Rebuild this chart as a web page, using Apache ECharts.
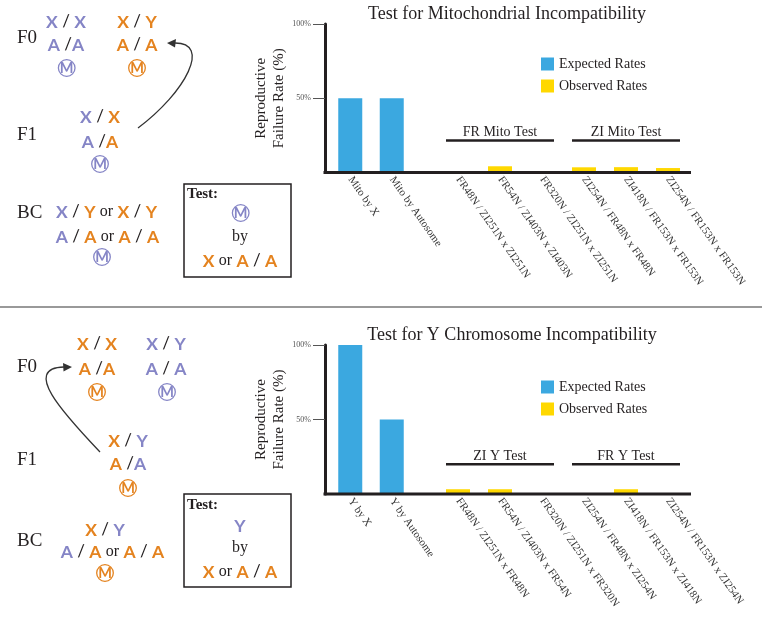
<!DOCTYPE html>
<html><head><meta charset="utf-8">
<script src="https://cdn.jsdelivr.net/npm/echarts@6/dist/echarts.min.js"></script>
<style>html,body{margin:0;padding:0;background:#fff}#c{width:762px;height:617px}</style>
</head><body><div id="c"></div>
<script>
// ---------- data ----------
const titleTop = 'Test for Mitochondrial Incompatibility';
const titleBottom = 'Test for Y Chromosome Incompatibility';
const yAxisName = 'Reproductive\nFailure Rate (%)';
const yTickValues = [50, 100];
const legendNames = ['Expected Rates', 'Observed Rates'];

const expectedCatsTop = ['Mito by X', 'Mito by Autosome'];
const expectedTop = [50, 50];
const observedCatsTop = ['FR48N / ZI251N x ZI251N', 'FR54N / ZI403N x ZI403N', 'FR320N / ZI251N x ZI251N',
  'ZI254N / FR48N x FR48N', 'ZI418N / FR153N x FR153N', 'ZI254N / FR153N x FR153N'];
const observedTop = [0, 4.2, 0, 3.5, 3.6, 3.0];
const bracketLabelsTop = ['FR Mito Test', 'ZI Mito Test'];

const expectedCatsBottom = ['Y by X', 'Y by Autosome'];
const expectedBottom = [100, 50];
const observedCatsBottom = ['FR48N / ZI251N x FR48N', 'FR54N / ZI403N x FR54N', 'FR320N / ZI251N x FR320N',
  'ZI254N / FR48N x ZI254N', 'ZI418N / FR153N x ZI418N', 'ZI254N / FR153N x ZI254N'];
const observedBottom = [3.2, 3.2, 0, 0, 3.2, 0];
const bracketLabelsBottom = ['ZI Y Test', 'FR Y Test'];
const bracketLevel = [21.5, 20];

// ---------- style ----------
const BLUE = '#3ba8e0', YELLOW = '#ffd800', K = '#231f20';
const PUR = '#8585c6', ORA = '#e4831f';
const SERIF = '"Liberation Serif", "DejaVu Serif", serif';
const SANS = 'Lato, "Open Sans", sans-serif';
const BAR_W = 24;

const chart = echarts.init(document.getElementById('c'), null, {renderer: 'canvas'});

const gridsPx = [
  {left: 329.5, top: 24, width: 83, height: 148.5},
  {left: 437, top: 24, width: 252, height: 148.5},
  {left: 329.5, top: 345, width: 83, height: 149},
  {left: 437, top: 345, width: 252, height: 149}
];

function xAx(i, data) {
  return {type: 'category', gridIndex: i, data: data,
    axisLine: {show: false}, axisTick: {show: false},
    axisLabel: {interval: 0, rotate: -55, margin: 5, fontSize: 11, fontFamily: SERIF, color: '#333'}};
}
function yAxVisible(i) {
  return {type: 'value', gridIndex: i, min: 0, max: 100, interval: 50, offset: 4.5,
    axisLine: {show: true, lineStyle: {color: K, width: 3}},
    axisTick: {show: true, length: 12, customValues: yTickValues, lineStyle: {color: '#555', width: 1}},
    axisLabel: {customValues: yTickValues, formatter: '{value}%', fontSize: 8, color: '#555', margin: 14, fontFamily: SERIF},
    splitLine: {show: false},
    name: yAxisName, nameLocation: 'middle', nameRotate: 90, nameGap: 35,
    nameTextStyle: {fontSize: 15, lineHeight: 18, fontFamily: SERIF, color: K}};
}
function yAxHidden(i) {
  return {type: 'value', gridIndex: i, min: 0, max: 100, interval: 50, show: false, splitLine: {show: false}};
}
function legend(top) {
  return {data: legendNames, orient: 'vertical', left: 536, top: top, itemWidth: 13, itemHeight: 13, itemGap: 8,
    icon: 'rect', selectedMode: false, textStyle: {fontSize: 14, fontFamily: SERIF, color: K}};
}
function bar(name, xi, data, color) {
  return {name: name, type: 'bar', xAxisIndex: xi, yAxisIndex: xi, data: data, barWidth: BAR_W,
    itemStyle: {color: color}, silent: true};
}

chart.setOption({
  animation: false,
  title: [
    {text: titleTop, left: 502, top: 0, textAlign: 'center', textStyle: {fontSize: 18, fontWeight: 'normal', fontFamily: SERIF, color: K}},
    {text: titleBottom, left: 507, top: 321, textAlign: 'center', textStyle: {fontSize: 18, fontWeight: 'normal', fontFamily: SERIF, color: K}}
  ],
  legend: [legend(52), legend(375)],
  grid: gridsPx,
  xAxis: [xAx(0, expectedCatsTop), xAx(1, observedCatsTop), xAx(2, expectedCatsBottom), xAx(3, observedCatsBottom)],
  yAxis: [yAxVisible(0), yAxHidden(1), yAxVisible(2), yAxHidden(3)],
  series: [
    bar(legendNames[0], 0, expectedTop, BLUE),
    bar(legendNames[1], 1, observedTop, YELLOW),
    bar(legendNames[0], 2, expectedBottom, BLUE),
    bar(legendNames[1], 3, observedBottom, YELLOW)
  ]
});

// ---------- annotations ----------
const g = [];
function baseline(yi, gA, gB) {
  const y = chart.convertToPixel({yAxisIndex: yi}, 0);
  g.push({type: 'line', shape: {x1: gA.left - 6, y1: y, x2: gB.left + gB.width + 2, y2: y},
    style: {stroke: K, lineWidth: 3}, z: 10});
}
baseline(0, gridsPx[0], gridsPx[1]);
baseline(2, gridsPx[2], gridsPx[3]);

function brackets(xi, labels, level) {
  const y = chart.convertToPixel({yAxisIndex: xi}, level);
  labels.forEach((lab, k) => {
    const x1 = chart.convertToPixel({xAxisIndex: xi}, k * 3) - BAR_W / 2;
    const x2 = chart.convertToPixel({xAxisIndex: xi}, k * 3 + 2) + BAR_W / 2;
    g.push({type: 'line', shape: {x1: x1, y1: y, x2: x2, y2: y}, style: {stroke: K, lineWidth: 2.5}});
    g.push({type: 'text', style: {x: (x1 + x2) / 2, y: y - 1, text: lab, align: 'center', verticalAlign: 'bottom',
      fontSize: 14, fontFamily: SERIF, fill: K}});
  });
}
brackets(1, bracketLabelsTop, bracketLevel[0]);
brackets(3, bracketLabelsBottom, bracketLevel[1]);

// ---------- genetics diagrams ----------
const rich = {
  p: {fill: PUR, fontWeight: 'bold', fontSize: 17.5, fontFamily: SANS},
  o: {fill: ORA, fontWeight: 'bold', fontSize: 17.5, fontFamily: SANS},
  s: {fill: K, fontSize: 17, fontFamily: SANS},
  w: {fill: K, fontSize: 16, fontFamily: SERIF}
};
function T(x, y, text) {
  g.push({type: 'text', style: {x: x, y: y, text: text, rich: rich, align: 'center', verticalAlign: 'middle',
    fontSize: 17, fontFamily: SANS, fill: K}});
}
function L(x, y, text, size, weight, align) {
  g.push({type: 'text', style: {x: x, y: y, text: text, align: align || 'left', verticalAlign: 'middle',
    fontSize: size, fontWeight: weight || 'normal', fontFamily: SERIF, fill: K}});
}
function M(cx, cy, col) {
  g.push({type: 'circle', shape: {cx: cx, cy: cy, r: 8.3}, style: {fill: '#fff', stroke: col, lineWidth: 1.3}});
  g.push({type: 'text', style: {x: cx, y: cy + 0.5, text: 'M', align: 'center', verticalAlign: 'middle',
    fontSize: 14.5, fontWeight: 'bold', fontFamily: SANS, fill: col}});
}

// top panel
L(17, 38, 'F0', 19);
T(66, 22, '{p|X} {s|/} {p|X}');
T(66, 45, '{p|A} {s|/}{p|A}');
M(66.7, 68, PUR);
T(137, 22, '{o|X} {s|/} {o|Y}');
T(137, 45, '{o|A} {s|/} {o|A}');
M(137, 68, ORA);
L(17, 135, 'F1', 19);
T(100, 117, '{p|X} {s|/} {o|X}');
T(100, 142, '{p|A} {s|/}{o|A}');
M(100, 164, PUR);
L(17, 213, 'BC', 19);
T(106.5, 212, '{p|X} {s|/} {o|Y} {w|or} {o|X} {s|/} {o|Y}');
T(107.5, 237, '{p|A} {s|/} {o|A} {w|or} {o|A} {s|/} {o|A}');
M(102, 257, PUR);
g.push({type: 'rect', shape: {x: 184, y: 184, width: 107, height: 93}, style: {fill: 'none', stroke: K, lineWidth: 1.5}});
L(187, 194, 'Test:', 15, 'bold');
M(240.7, 213, PUR);
L(240, 237, 'by', 16, 'normal', 'center');
T(240, 261, '{o|X} {w|or} {o|A} {s|/} {o|A}');
g.push({type: 'bezierCurve', shape: {x1: 138, y1: 128, cpx1: 186, cpy1: 92, cpx2: 212, cpy2: 42, x2: 174, y2: 43},
  style: {stroke: '#333', lineWidth: 1.3, fill: 'none'}});
g.push({type: 'polygon', shape: {points: [[167, 43], [176, 39], [175, 47.5]]}, style: {fill: '#333'}});

// separator
g.push({type: 'line', shape: {x1: 0, y1: 307, x2: 762, y2: 307}, style: {stroke: '#999', lineWidth: 2}});

// bottom panel
L(17, 367, 'F0', 19);
T(97, 344, '{o|X} {s|/} {o|X}');
T(97, 369, '{o|A} {s|/}{o|A}');
M(97, 392, ORA);
T(166, 344, '{p|X} {s|/} {p|Y}');
T(166, 369, '{p|A} {s|/} {p|A}');
M(167, 392, PUR);
L(17, 460, 'F1', 19);
T(128, 441, '{o|X} {s|/} {p|Y}');
T(128, 464, '{o|A} {s|/}{p|A}');
M(128, 488, ORA);
L(17, 541, 'BC', 19);
T(105, 530, '{o|X} {s|/} {p|Y}');
T(112.5, 552, '{p|A} {s|/} {o|A} {w|or} {o|A} {s|/} {o|A}');
M(105, 573, ORA);
g.push({type: 'rect', shape: {x: 184, y: 494, width: 107, height: 93}, style: {fill: 'none', stroke: K, lineWidth: 1.5}});
L(187, 505, 'Test:', 15, 'bold');
T(240, 526, '{p|Y}');
L(240, 548, 'by', 16, 'normal', 'center');
T(240, 572, '{o|X} {w|or} {o|A} {s|/} {o|A}');
g.push({type: 'bezierCurve', shape: {x1: 100, y1: 452, cpx1: 62, cpy1: 412, cpx2: 22, cpy2: 368, x2: 64, y2: 367},
  style: {stroke: '#333', lineWidth: 1.3, fill: 'none'}});
g.push({type: 'polygon', shape: {points: [[72, 367], [63, 363], [63.5, 371.5]]}, style: {fill: '#333'}});

chart.setOption({graphic: g});
</script></body></html>
